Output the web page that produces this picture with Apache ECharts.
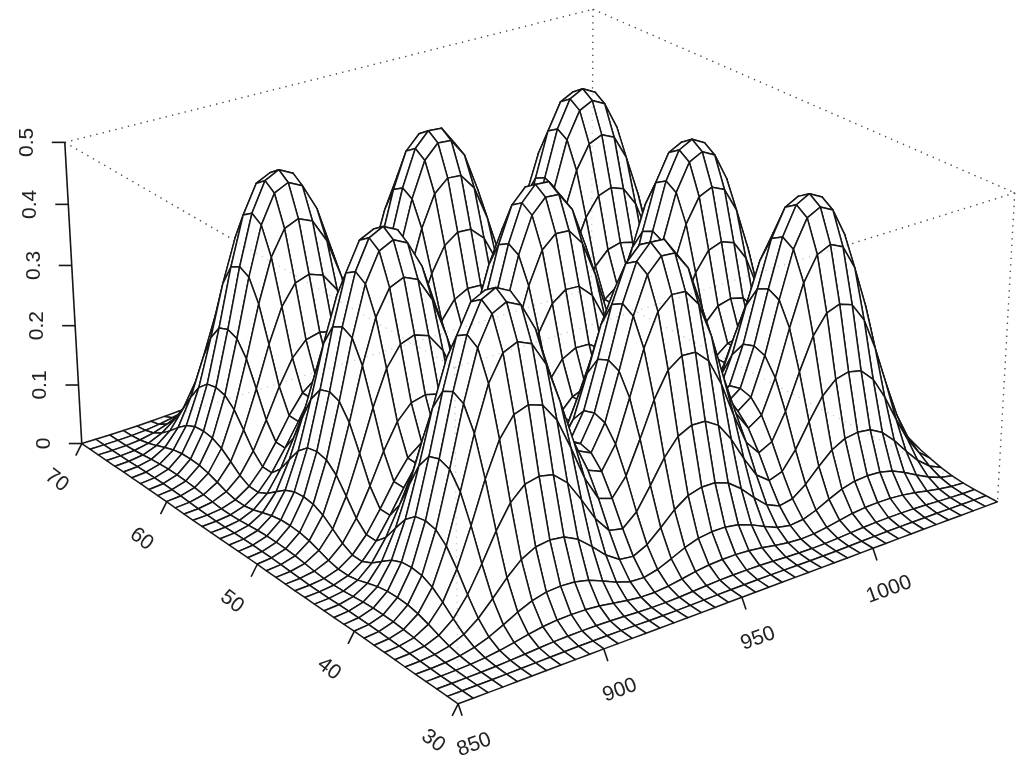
<!DOCTYPE html>
<html><head><meta charset="utf-8">
<style>html,body{margin:0;padding:0;background:#fff}#c{width:1020px;height:760px}</style>
<script src="https://cdn.jsdelivr.net/npm/echarts@6/dist/echarts.min.js"></script>
</head><body><div id="c"></div>
<script>
// ---- values ----
const xValues = [850,855,860,865,870,875,880,885,890,895,900,905,910,915,920,925,930,935,940,945,950,955,960,965,970,975,980,985,990,995,1000,1005,1010,1015,1020,1025,1030,1035,1040,1045,1050];
const yValues = [30,31,32,33,34,35,36,37,38,39,40,41,42,43,44,45,46,47,48,49,50,51,52,53,54,55,56,57,58,59,60,61,62,63,64,65,66,67,68,69,70];
const xProfile = [0.002,0.007,0.023,0.065,0.151,0.295,0.489,0.699,0.874,0.975,1,0.975,0.878,0.713,0.533,0.405,0.381,0.472,0.639,0.817,0.946,0.997,0.993,0.926,0.783,0.597,0.433,0.353,0.388,0.524,0.71,0.877,0.975,1,0.975,0.874,0.699,0.489,0.295,0.151,0.065];
const yProfile = [0.001,0.004,0.015,0.047,0.122,0.257,0.452,0.671,0.86,0.972,1,0.973,0.864,0.686,0.499,0.379,0.379,0.499,0.686,0.864,0.973,1,0.973,0.864,0.686,0.499,0.379,0.379,0.499,0.686,0.864,0.973,1,0.972,0.86,0.671,0.452,0.257,0.122,0.047,0.015];
const peakHeight = 0.46;
const xTicks = [850,900,950,1000];
const yTicks = [30,40,50,60,70];
const zTicks = [0,0.1,0.2,0.3,0.4,0.5];
const xRange = [850,1050], yRange = [30,70], zRange = [0,0.5];

// camera: where known box points land in the plot plane (x,y,z -> plot x,y)
const cameraAnchors = [
 [850,30,0, 458,702],[1050,30,0, 995,501],[850,70,0, 83,443],
 [850,70,.5, 65,144],[1050,30,.5, 1015,194],[1050,70,.5, 593,8],[850,30,.5, 454,366],
 [900,30,0, 605,650],[950,30,0, 743,597],[1000,30,0, 875,550],
 [850,40,0, 353,633],[850,50,0, 257,565],[850,60,0, 165,502]
];
function nu(x){return (x-xRange[0])/(xRange[1]-xRange[0]);}
function nv(y){return (y-yRange[0])/(yRange[1]-yRange[0]);}
function nw(z){return (z-zRange[0])/(zRange[1]-zRange[0]);}
function solveCamera(){
  const n=11, A=[], b=[];
  for(let i=0;i<n;i++){A.push(new Array(n).fill(0));b.push(0);}
  function add(row,r){for(let i=0;i<n;i++){b[i]+=row[i]*r;for(let j=0;j<n;j++)A[i][j]+=row[i]*row[j];}}
  cameraAnchors.forEach(p=>{
    const u=nu(p[0]),v=nv(p[1]),w=nw(p[2]),X=p[3],Y=p[4];
    add([1,u,v,w,0,0,0,0,-X*u,-X*v,-X*w],X);
    add([0,0,0,0,1,u,v,w,-Y*u,-Y*v,-Y*w],Y);
  });
  for(let c=0;c<n;c++){
    let m=c;for(let r=c+1;r<n;r++)if(Math.abs(A[r][c])>Math.abs(A[m][c]))m=r;
    [A[c],A[m]]=[A[m],A[c]];[b[c],b[m]]=[b[m],b[c]];
    for(let r=0;r<n;r++){if(r===c)continue;const f=A[r][c]/A[c][c];for(let k=c;k<n;k++)A[r][k]-=f*A[c][k];b[r]-=f*b[c];}
  }
  return b.map((v,i)=>v/A[i][i]);
}
const cam = solveCamera();
function project(x,y,z){
  const u=nu(x),v=nv(y),w=nw(z);
  const d=1+cam[8]*u+cam[9]*v+cam[10]*w;
  return [(cam[0]+cam[1]*u+cam[2]*v+cam[3]*w)/d,(cam[4]+cam[5]*u+cam[6]*v+cam[7]*w)/d];
}
function height(i,j){return xProfile[i]*yProfile[j]*peakHeight;}

// surface cells, far corner first
const cells=[];
for(let i=xValues.length-2;i>=0;i--)for(let j=yValues.length-2;j>=0;j--){
  cells.push([xValues[i],xValues[i+1],yValues[j],yValues[j+1],height(i,j),height(i+1,j),height(i+1,j+1),height(i,j+1)]);
}
const X0=xRange[0],X1=xRange[1],Y0=yRange[0],Y1=yRange[1],Z0=zRange[0],Z1=zRange[1];
const dottedEdges=[
 [X0,Y1,Z1,X1,Y1,Z1],[X1,Y1,Z1,X1,Y0,Z1],[X1,Y1,Z1,X1,Y1,Z0],[X1,Y1,Z0,X0,Y1,Z0],[X1,Y1,Z0,X1,Y0,Z0],
 [X0,Y1,Z1,X0,Y0,Z1],[X1,Y0,Z1,X0,Y0,Z1],[X0,Y0,Z1,X0,Y0,Z0],[X1,Y0,Z1,X1,Y0,Z0]
];
const INK='#161616';
function edgeSeries(op,z){
  return {type:'custom',coordinateSystem:'cartesian2d',silent:true,z:z,clip:false,data:dottedEdges,
   encode:{x:0,y:1},
   renderItem:function(p,api){
     const a=api.coord(project(api.value(0),api.value(1),api.value(2)));
     const b=api.coord(project(api.value(3),api.value(4),api.value(5)));
     return {type:'line',shape:{x1:a[0],y1:a[1],x2:b[0],y2:b[1]},
       style:{stroke:'#4a4a4a',lineWidth:1.3,lineDash:[1.3,5.2],opacity:op}};
   }};
}
// tick rows: kind, x, y, z, label
const tickRows=[];
xTicks.forEach(t=>tickRows.push(['x',t,Y0,Z0,String(t)]));
yTicks.forEach(t=>tickRows.push(['y',X0,t,Z0,String(t)]));
zTicks.forEach(t=>tickRows.push(['z',X0,Y1,t,String(t)]));
const tickStyle={x:{dx:4,dy:12,lx:16,ly:41,rot:20},y:{dx:-6,dy:12,lx:-25,ly:37,rot:-37},z:{dx:-13,dy:0,lx:-38,ly:0,rot:90}};

const option={
 backgroundColor:'#fff',animation:false,
 grid:{left:0,right:0,top:0,bottom:0},
 xAxis:{type:'value',min:0,max:1020,show:false},
 yAxis:{type:'value',min:0,max:760,inverse:true,show:false},
 series:[
  edgeSeries(1,1),
  {type:'custom',coordinateSystem:'cartesian2d',silent:true,z:2,clip:false,data:cells,
   encode:{x:0,y:2},
   renderItem:function(p,api){
     const x0=api.value(0),x1=api.value(1),y0=api.value(2),y1=api.value(3);
     const pts=[project(x0,y0,api.value(4)),project(x1,y0,api.value(5)),project(x1,y1,api.value(6)),project(x0,y1,api.value(7))].map(q=>api.coord(q));
     return {type:'polygon',shape:{points:pts},style:{fill:'#fff',stroke:INK,lineWidth:1.5,lineJoin:'round'}};
   }},
  edgeSeries(0.28,3),
  {type:'custom',coordinateSystem:'cartesian2d',silent:true,z:4,clip:false,
   data:[[X0,Y1,Z0,X0,Y1,Z1]],encode:{x:0,y:1},
   renderItem:function(p,api){
     const a=api.coord(project(api.value(0),api.value(1),api.value(2)));
     const b=api.coord(project(api.value(3),api.value(4),api.value(5)));
     return {type:'line',shape:{x1:a[0],y1:a[1],x2:b[0],y2:b[1]},style:{stroke:INK,lineWidth:1.6}};
   }},
  {type:'custom',coordinateSystem:'cartesian2d',silent:true,z:5,clip:false,
   data:tickRows.map(r=>({value:[r[1],r[2],r[3]]})),
   dimensions:['x','y','z'],encode:{x:0,y:1},
   renderItem:function(p,api){
     const r=tickRows[p.dataIndex],s=tickStyle[r[0]];
     const a=api.coord(project(api.value(0),api.value(1),api.value(2)));
     return {type:'group',children:[
       {type:'line',shape:{x1:a[0],y1:a[1],x2:a[0]+s.dx,y2:a[1]+s.dy},style:{stroke:INK,lineWidth:1.6}},
       {type:'text',x:a[0]+s.lx,y:a[1]+s.ly,rotation:s.rot*Math.PI/180,
        style:{text:r[4],fill:'#222',font:'21px "Liberation Sans"',align:'center',verticalAlign:'middle'}}
     ]};
   }}
 ]
};
const chart=echarts.init(document.getElementById('c'),null,{renderer:'canvas'});
chart.setOption(option);
</script></body></html>
